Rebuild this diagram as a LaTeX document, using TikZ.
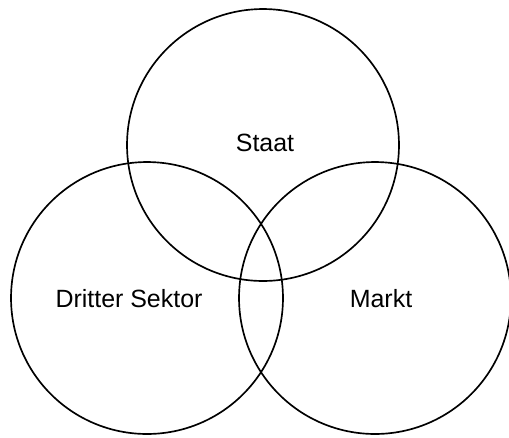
\documentclass[tikz,border=0pt]{standalone}
\usepackage{fontspec}
\setmainfont{Liberation Sans}
\usepackage{tikz}
\usetikzlibrary{positioning}

\begin{document}
\begin{tikzpicture}[x=0.02cm,y=-0.02cm,
    kreis/.style={circle,draw,line width=0.95pt,minimum size=5.44cm,inner sep=0pt},
    lbl/.style={font=\fontsize{14.2}{17}\selectfont,inner sep=0pt}]
  \useasboundingbox (0,0) rectangle (509,437);
  % die drei Kreise
  \node[kreis] (staat) at (263,145) {};
  \node[kreis] (sektor) at (147,298) {};
  \node[kreis] (markt) at (375,298) {};
  % Beschriftungen
  \node[lbl] (tstaat) at (265,143) {Staat};
  \node[lbl] (tsektor) at (129,299) {Dritter Sektor};
  \node[lbl] (tmarkt) at (381,299) {Markt};
\end{tikzpicture}
\end{document}
